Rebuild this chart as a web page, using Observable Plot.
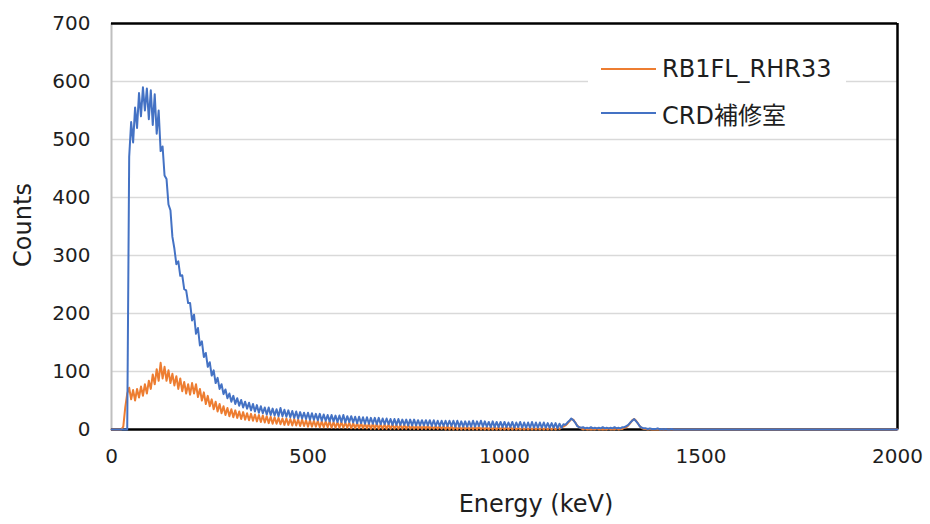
<!DOCTYPE html>
<html>
<head>
<meta charset="utf-8">
<script src="https://cdn.jsdelivr.net/npm/d3@7"></script>
<script src="https://cdn.jsdelivr.net/npm/@observablehq/plot@0.6"></script>
<style>
  html, body { margin: 0; padding: 0; background: #fff; }
  #wrap { position: relative; width: 930px; height: 524px; font-family: "DejaVu Sans", "Noto Sans CJK JP", sans-serif; color: #1e1e1e; }
  .ttl { position: absolute; font-size: 24px; white-space: nowrap; }
  #legend { position: absolute; left: 588px; top: 48px; width: 258px; height: 86px; background: #fff; }
  .row { position: absolute; left: 0; height: 30px; display: flex; align-items: center; font-size: 24px; }
  .sw { width: 55px; height: 2px; margin-left: 13px; margin-right: 6px; }
</style>
</head>
<body>
<div id="wrap"></div>
<script>
// Spectrum calibration: keV per channel
const KEV_PER_CHANNEL = 5;

const seriesNames = ["RB1FL_RHR33", "CRD補修室"];
const seriesColors = ["#ED7D31", "#4472C4"];

// Counts per channel (channel i = i*5 keV)
const orangeCounts = [
  0,0,0,0,0,0,5,38,62,72, 52,68,50,70,55,74,58,78,62,84,
  70,95,78,104,84,115,88,108,84,102, 80,96,76,92,70,88,66,82,62,78,
  60,80,62,78,56,70,50,64,44,58, 40,52,35,48,31,44,28,40,25,37,
  23,35,21,33,20,31,18,30,17,28, 16,27,15,26,14,25,13,24,12,23,
  11,22,10,21,10,20,9,19,8,19, 8,18,7,18,7,17,6,17,6,16,
  5,16,5,15,5,15,4,14,4,14, 4,14,3,13,3,13,3,13,3,12,
  3,12,2,11,2,11,2,11,2,10, 2,10,1,10,1,10,1,9,1,9,
  1,9,1,9,1,8,1,8,1,8, 1,8,1,7,1,7,1,7,1,7,
  1,7,1,6,1,6,1,6,1,6, 0,6,0,6,0,5,0,5,0,5,
  0,5,0,5,0,5,0,5,0,4, 0,4,0,4,0,4,0,4,0,4,
  0,4,0,4,0,4,0,3,0,3, 0,3,0,3,0,3,0,3,0,3,
  0,3,0,3,0,3,0,3,1,4, 5,7,10,14,18,17,12,7,4,2,
  0,2,0,1,0,1,0,2,0,1, 0,1,0,2,0,1,0,2,0,1,
  1,3,4,7,11,16,18,15,10,5, 2,1,1,0,1,0,0,0,0,0,
  0,0,0,0,0,0,0,0,0,0, 0,0,0,0,0,0,0,0,0,0,
  0,0,0,0,0,0,0,0,0,0, 0,0,0,0,0,0,0,0,0,0,
  0,0,0,0,0,0,0,0,0,0, 0,0,0,0,0,0,0,0,0,0,
  0,0,0,0,0,0,0,0,0,0, 0,0,0,0,0,0,0,0,0,0,
  0,0,0,0,0,0,0,0,0,0, 0,0,0,0,0,0,0,0,0,0,
  0,0,0,0,0,0,0,0,0,0, 0,0,0,0,0,0,0,0,0,0,
  0
];

const blueCounts = [
  0,0,0,0,0,0,0,0,0,470, 530,495,555,520,580,540,590,550,588,535,
  585,525,578,510,550,480,488,438,432,388, 378,332,312,285,290,265,266,242,240,218,
  218,188,198,165,175,145,152,125,132,108, 116,93,102,80,89,70,78,61,69,54,
  62,48,58,44,54,41,51,38,48,36, 46,33,44,31,42,29,40,28,38,26,
  38,25,36,24,35,23,37,23,34,22, 33,21,32,20,31,19,30,19,29,18,
  29,17,28,17,27,16,27,15,26,15, 25,14,25,14,24,13,24,13,25,12,
  23,13,23,12,22,11,22,11,21,10, 21,10,20,10,20,9,20,9,19,9,
  19,9,18,8,18,8,18,8,17,8, 17,7,17,7,17,7,16,7,16,7,
  16,7,16,6,16,6,15,6,15,6, 15,6,15,6,15,5,15,5,14,5,
  14,5,14,5,15,5,14,6,15,5, 14,5,13,4,14,4,13,4,13,4,
  13,4,12,4,13,3,12,4,13,3, 12,3,12,3,13,3,12,3,12,3,
  12,3,11,3,11,3,11,2,10,3, 9,8,12,15,19,16,12,6,4,3,
  4,2,3,2,4,2,3,2,3,2, 4,2,3,2,3,2,4,2,3,2,
  4,4,6,8,12,15,18,14,10,5, 3,2,2,1,2,1,1,1,2,0,
  1,0,1,0,0,1,0,0,0,0, 0,0,0,0,0,0,0,0,0,0,
  0,0,0,0,0,0,0,0,0,0, 0,0,0,0,0,0,0,0,0,0,
  0,0,0,0,0,0,0,0,0,0, 0,0,0,0,0,0,0,0,0,0,
  0,0,0,0,0,0,0,0,0,0, 0,0,0,0,0,0,0,0,0,0,
  0,0,0,0,0,0,0,0,0,0, 0,0,0,0,0,0,0,0,0,0,
  0,0,0,0,0,0,0,0,0,0, 0,0,0,0,0,0,0,0,0,0,
  0
];

const xTicks = [0, 500, 1000, 1500, 2000];
const yTicks = [0, 100, 200, 300, 400, 500, 600, 700];
const xDomain = [0, 2000];
const yDomain = [0, 700];

const orangeData = orangeCounts.map((c, i) => ({energy: i * KEV_PER_CHANNEL, counts: c}));
const blueData = blueCounts.map((c, i) => ({energy: i * KEV_PER_CHANNEL, counts: c}));

const plot = Plot.plot({
  width: 930,
  height: 524,
  marginTop: 23,
  marginRight: 33,
  marginBottom: 95,
  marginLeft: 111,
  style: {fontFamily: '"DejaVu Sans", sans-serif', fontSize: "20px", color: "#1e1e1e", background: "#fff"},
  x: {domain: xDomain, ticks: xTicks, tickFormat: d3.format("d"), tickSize: 0, tickPadding: 19, label: null},
  y: {domain: yDomain, ticks: yTicks, tickFormat: d3.format("d"), tickSize: 0, tickPadding: 21, label: null},
  marks: [
    Plot.ruleY(yTicks.slice(1, -1), {stroke: "#d9d9d9", strokeWidth: 1.5}),
    Plot.ruleX([xDomain[0]], {stroke: "#bfbfbf", strokeWidth: 2}),
    Plot.ruleY([yDomain[1]], {stroke: "#000", strokeWidth: 2.5}),
    Plot.ruleX([xDomain[1]], {stroke: "#000", strokeWidth: 2.5}),
    Plot.ruleY([yDomain[0]], {stroke: "#000", strokeWidth: 2.5}),
    Plot.line(orangeData, {x: "energy", y: "counts", stroke: seriesColors[0], strokeWidth: 2}),
    Plot.line(blueData, {x: "energy", y: "counts", stroke: seriesColors[1], strokeWidth: 2})
  ]
});

const wrap = document.getElementById("wrap");
wrap.appendChild(plot);
plot.style.position = "absolute";
plot.style.left = "0px";
plot.style.top = "0px";

const xt = document.createElement("div");
xt.className = "ttl";
xt.textContent = "Energy (keV)";
xt.style.left = "536px";
xt.style.top = "504px";
xt.style.transform = "translate(-50%, -50%)";
wrap.appendChild(xt);

const yt = document.createElement("div");
yt.className = "ttl";
yt.textContent = "Counts";
yt.style.left = "23px";
yt.style.top = "225px";
yt.style.transform = "translate(-50%, -50%) rotate(-90deg)";
wrap.appendChild(yt);

const legend = document.createElement("div");
legend.id = "legend";
seriesNames.forEach((name, i) => {
  const row = document.createElement("div");
  row.className = "row";
  row.style.top = (i === 0 ? 6 : 50) + "px";
  const sw = document.createElement("div");
  sw.className = "sw";
  sw.style.background = seriesColors[i];
  const tx = document.createElement("span");
  tx.textContent = name;
  row.appendChild(sw);
  row.appendChild(tx);
  legend.appendChild(row);
});
wrap.appendChild(legend);
</script>
</body>
</html>
